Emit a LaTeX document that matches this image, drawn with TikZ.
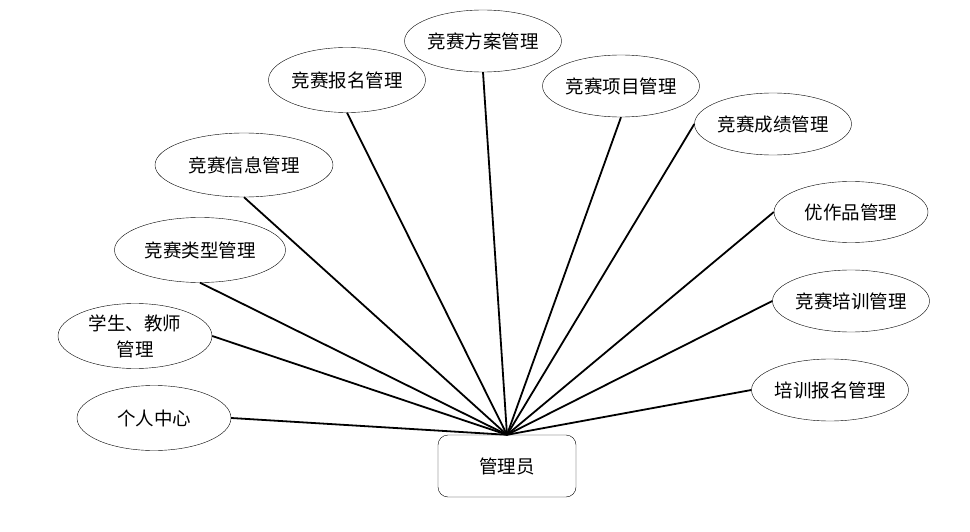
\documentclass[tikz,border=0pt]{standalone}
\usepackage{fontspec}
\usepackage{xcolor}
\usepackage{tikz}
\usetikzlibrary{shapes,positioning}
\newfontfamily\cjk{Noto Sans CJK SC}

\begin{document}
\begin{tikzpicture}[
    x=1pt, y=-1pt,
    func/.style={ellipse, draw, thin, inner sep=0pt, minimum width=155pt, minimum height=62pt, align=center, font=\cjk\fontsize{18.5}{26}\selectfont},
    role/.style={rectangle, draw, thin, rounded corners=10pt, minimum width=138pt, minimum height=62pt, font=\cjk\fontsize{18.5}{26}\selectfont},
    link/.style={line width=1.8pt}
]
\useasboundingbox (0,0) rectangle (970,532);

\node[role] (admin) at (507,466) {管理员};

\node[func] (plan) at (483,41) {竞赛方案管理};
\node[func, minimum height=65pt] (signup) at (347,80) {竞赛报名管理};
\node[func, minimum width=178pt, minimum height=64pt] (info) at (244,165) {竞赛信息管理};
\node[func, minimum width=171pt, minimum height=65pt] (type) at (200,250) {竞赛类型管理};
\node[func, minimum width=154pt, minimum height=65pt] (user) at (135,336) {学生、教师\\管理};
\node[func, minimum width=154pt, minimum height=65pt] (center) at (154,418) {个人中心};
\node[func] (item) at (621,86) {竞赛项目管理};
\node[func] (score) at (773,124) {竞赛成绩管理};
\node[func, minimum width=154pt, minimum height=61pt] (works) at (851,212) {优作品管理};
\node[func] (train) at (851,301) {竞赛培训管理};
\node[func] (trainsignup) at (830,390) {培训报名管理};

\draw[link] (plan.south) -- (admin.north);
\draw[link] (signup.south) -- (admin.north);
\draw[link] (info.south) -- (admin.north);
\draw[link] (type.south) -- (admin.north);
\draw[link] (user.east) -- (admin.north);
\draw[link] (center.east) -- (admin.north);
\draw[link] (item.south) -- (admin.north);
\draw[link] (score.west) -- (admin.north);
\draw[link] (works.west) -- (admin.north);
\draw[link] (train.west) -- (admin.north);
\draw[link] (trainsignup.west) -- (admin.north);
\end{tikzpicture}
\end{document}
